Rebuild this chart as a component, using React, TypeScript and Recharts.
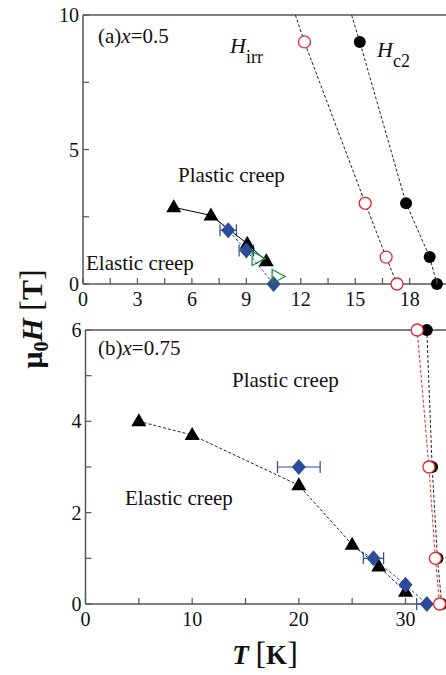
import { ComposedChart, Scatter, XAxis, YAxis, ErrorBar, ReferenceLine } from "recharts"

const FONT = '"Liberation Serif", "Times New Roman", serif'
const AXIS = "#555"
const BLUE = "#2b4c9b"
const GREEN = "#1f9147"
const RED = "#e8262a"

// ---- panel (a) x = 0.5 ----
const aTriT = [5, 7.05, 9.05, 10.1]
const aTriH = [2.85, 2.55, 1.5, 0.85]
const aDiaT = [8, 9, 10.5]
const aDiaH = [2, 1.25, 0]
const aDiaErr = [0.45, 0.4, 0]
const aGreenT = [9.65, 10.75]
const aGreenH = [0.95, 0.28]
const aIrrT = [12.2, 15.55, 16.7, 17.3]
const aIrrH = [9, 3, 1, 0]
const aHc2T = [15.25, 17.8, 19.1, 19.5]
const aHc2H = [9, 3, 1, 0]
// guide lines (incl. where they leave the frame)
const aIrrLineT = [11.7, 12.2, 15.55, 16.7, 17.3]
const aIrrLineH = [10, 9, 3, 1, 0]
const aHc2LineT = [14.8, 15.25, 17.8, 19.1, 19.5]
const aHc2LineH = [10, 9, 3, 1, 0]
const aBlueLineT = [7.05, 8, 9, 10.5]
const aBlueLineH = [2.6, 2, 1.25, 0]

// ---- panel (b) x = 0.75 ----
const bTriT = [5, 10, 20, 25, 27.5, 30]
const bTriH = [4.0, 3.7, 2.6, 1.3, 0.82, 0.27]
const bDiaT = [20, 27, 30, 32]
const bDiaH = [3.0, 1.0, 0.42, 0]
const bDiaErr = [2, 0.95, 0, 0.95]
const bIrrT = [31.1, 32.2, 32.8, 33.2]
const bIrrH = [6, 3, 1, 0]
const bHc2T = [32.0, 32.5, 33.0, 33.4]
const bHc2H = [6, 3, 1, 0]
const bBlueLineT = [25.8, 27, 30, 32]
const bBlueLineH = [1.15, 1.0, 0.42, 0]

const aXTicks = [0, 1.5, 3, 4.5, 6, 7.5, 9, 10.5, 12, 13.5, 15, 16.5, 18, 19.5]
const aYTicks = [0, 2.5, 5, 7.5, 10]
const bXTicks = [0, 5, 10, 15, 20, 25, 30]
const bYTicks = [0, 1, 2, 3, 4, 5, 6]

const pts = (t: number[], h: number[], err?: number[]) =>
  t.map((v, i) => ({ t: v, h: h[i], err: err ? err[i] : 0 }))

const triUp = (p: any) => (
  <path d={`M${p.cx},${p.cy - 8} L${p.cx + 7.5},${p.cy + 5} L${p.cx - 7.5},${p.cy + 5} Z`} fill="#000" />
)
const triRight = (p: any) => (
  <path d={`M${p.cx - 6},${p.cy - 7} L${p.cx + 7},${p.cy} L${p.cx - 6},${p.cy + 7} Z`} fill="none" stroke={GREEN} strokeWidth={1.3} />
)
const diamond = (p: any) => (
  <path d={`M${p.cx},${p.cy - 8} L${p.cx + 7},${p.cy} L${p.cx},${p.cy + 8} L${p.cx - 7},${p.cy} Z`} fill={BLUE} />
)
const openCircle = (p: any) => <circle cx={p.cx} cy={p.cy} r={6} fill="#fff" stroke={RED} strokeWidth={1.3} />
const dot = (p: any) => <circle cx={p.cx} cy={p.cy} r={6} fill="#000" />
const none = () => <g />

const makeXTick = (step: number) => (p: any) => {
  const v = p.payload.value
  const major = Math.abs(v / step - Math.round(v / step)) < 1e-6
  return (
    <g>
      <line x1={p.x} x2={p.x} y1={p.y} y2={p.y - 6} stroke={AXIS} strokeWidth={1.2} />
      {major && (
        <text x={p.x} y={p.y + 22} textAnchor="middle" fontFamily={FONT} fontSize={20} fill="#111">
          {v}
        </text>
      )}
    </g>
  )
}
const makeYTick = (step: number) => (p: any) => {
  const v = p.payload.value
  const major = Math.abs(v / step - Math.round(v / step)) < 1e-6
  return (
    <g>
      <line x1={p.x} x2={p.x + 6} y1={p.y} y2={p.y} stroke={AXIS} strokeWidth={1.2} />
      {major && (
        <text x={p.x - 4} y={p.y + 7} textAnchor="end" fontFamily={FONT} fontSize={20} fill="#111">
          {v}
        </text>
      )}
    </g>
  )
}

const dashed = (color: string) => ({ stroke: color, strokeWidth: 1, strokeDasharray: "3 2" })

export default function App() {
  return (
    <div style={{ position: "absolute", left: 0, top: 0, width: 446, height: 675, background: "#fff" }}>
      <div style={{ position: "absolute", left: 0, top: 0 }}>
        <ComposedChart width={446} height={310} margin={{ top: 15, right: 0, bottom: 0, left: 43 }}>
          <XAxis type="number" dataKey="t" domain={[0, 20]} ticks={aXTicks} interval={0} height={26}
            tickSize={0} tickMargin={0} tickLine={false} tick={makeXTick(3)} axisLine={{ stroke: AXIS, strokeWidth: 1.5 }} />
          <YAxis type="number" dataKey="h" domain={[0, 10]} ticks={aYTicks} interval={0} width={40}
            tickSize={0} tickMargin={0} tickLine={false} tick={makeYTick(5)} axisLine={{ stroke: AXIS, strokeWidth: 1.5 }} />
          <ReferenceLine y={10} stroke={AXIS} strokeWidth={1.5} />
          <Scatter data={pts(aIrrLineT, aIrrLineH)} dataKey="h" shape={none} line={dashed("#222")} lineType="joint" isAnimationActive={false} />
          <Scatter data={pts(aHc2LineT, aHc2LineH)} dataKey="h" shape={none} line={dashed("#222")} lineType="joint" isAnimationActive={false} />
          <Scatter data={pts(aBlueLineT, aBlueLineH)} dataKey="h" shape={none} line={dashed(BLUE)} lineType="joint" isAnimationActive={false} />
          <Scatter data={pts(aTriT, aTriH)} dataKey="h" shape={triUp} line={{ stroke: "#000", strokeWidth: 1 }} lineType="joint" isAnimationActive={false} />
          <Scatter data={pts(aDiaT, aDiaH, aDiaErr)} dataKey="h" shape={diamond} isAnimationActive={false}>
            <ErrorBar dataKey="err" direction="x" width={6} stroke={BLUE} strokeWidth={1.2} />
          </Scatter>
          <Scatter data={pts(aGreenT, aGreenH)} dataKey="h" shape={triRight} isAnimationActive={false} />
          <Scatter data={pts(aIrrT, aIrrH)} dataKey="h" shape={openCircle} isAnimationActive={false} />
          <Scatter data={pts(aHc2T, aHc2H)} dataKey="h" shape={dot} isAnimationActive={false} />
        </ComposedChart>
      </div>
      <div style={{ position: "absolute", left: 0, top: 310 }}>
        <ComposedChart width={446} height={365} margin={{ top: 20, right: 0, bottom: 41, left: 45.5 }}>
          <XAxis type="number" dataKey="t" domain={[0, 33.8]} ticks={bXTicks} interval={0} height={30}
            tickSize={0} tickMargin={0} tickLine={false} tick={makeXTick(10)} axisLine={{ stroke: AXIS, strokeWidth: 1.5 }} />
          <YAxis type="number" dataKey="h" domain={[0, 6]} ticks={bYTicks} interval={0} width={40}
            tickSize={0} tickMargin={0} tickLine={false} tick={makeYTick(2)} axisLine={{ stroke: AXIS, strokeWidth: 1.5 }} />
          <ReferenceLine y={6} stroke={AXIS} strokeWidth={1.5} />
          <Scatter data={pts(bHc2T, bHc2H)} dataKey="h" shape={none} line={dashed("#222")} lineType="joint" isAnimationActive={false} />
          <Scatter data={pts(bIrrT, bIrrH)} dataKey="h" shape={none} line={dashed(RED)} lineType="joint" isAnimationActive={false} />
          <Scatter data={pts(bBlueLineT, bBlueLineH)} dataKey="h" shape={none} line={dashed(BLUE)} lineType="joint" isAnimationActive={false} />
          <Scatter data={pts(bTriT, bTriH)} dataKey="h" shape={triUp} line={dashed("#222")} lineType="joint" isAnimationActive={false} />
          <Scatter data={pts(bDiaT, bDiaH, bDiaErr)} dataKey="h" shape={diamond} isAnimationActive={false}>
            <ErrorBar dataKey="err" direction="x" width={6} stroke={BLUE} strokeWidth={1.2} />
          </Scatter>
          <Scatter data={pts(bHc2T, bHc2H)} dataKey="h" shape={dot} isAnimationActive={false} />
          <Scatter data={pts(bIrrT, bIrrH)} dataKey="h" shape={openCircle} isAnimationActive={false} />
        </ComposedChart>
      </div>
      <svg width={446} height={675} style={{ position: "absolute", left: 0, top: 0, pointerEvents: "none" }}
        fontFamily={FONT} fill="#111">
        <text x={98} y={43} fontSize={21}>(a)<tspan fontStyle="italic">x</tspan>=0.5</text>
        <text x={230} y={53} fontSize={22} fontStyle="italic">H<tspan fontStyle="normal" fontSize={18} dy={10}>irr</tspan></text>
        <text x={377} y={57} fontSize={22} fontStyle="italic">H<tspan fontStyle="normal" fontSize={18} dy={10}>c2</tspan></text>
        <text x={178} y={182} fontSize={21}>Plastic creep</text>
        <text x={86} y={270} fontSize={21}>Elastic creep</text>
        <text x={98} y={355} fontSize={21}>(b)<tspan fontStyle="italic">x</tspan>=0.75</text>
        <text x={232} y={387} fontSize={21}>Plastic creep</text>
        <text x={125} y={505} fontSize={21}>Elastic creep</text>
        <text x={265} y={664} textAnchor="middle" fontSize={27} fontWeight="bold">
          <tspan fontStyle="italic">T</tspan> <tspan fontWeight="normal" fontSize={32}>[</tspan>K<tspan fontWeight="normal" fontSize={32}>]</tspan>
        </text>
        <text transform="translate(42,319) rotate(-90)" textAnchor="middle" fontSize={30} fontWeight="bold">
          μ<tspan fontSize={20} dy={6}>0</tspan><tspan dy={-6} fontStyle="italic">H</tspan> <tspan fontWeight="normal" fontSize={32}>[</tspan>T<tspan fontWeight="normal" fontSize={32}>]</tspan>
        </text>
      </svg>
    </div>
  )
}
